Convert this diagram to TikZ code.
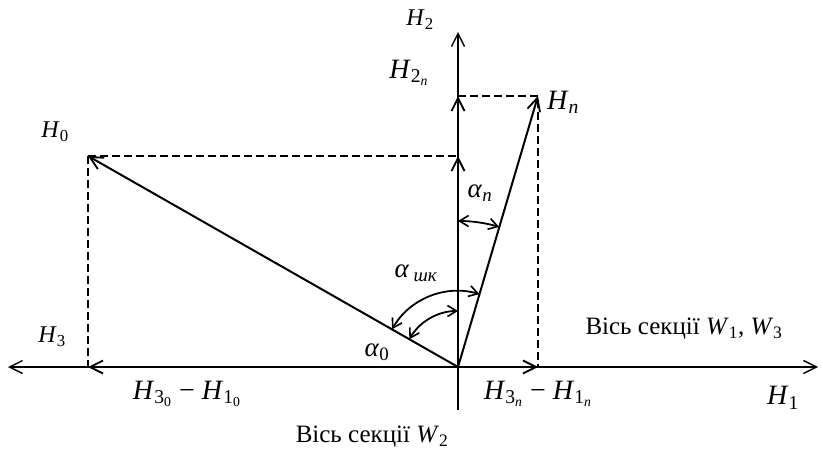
\documentclass[tikz,border=0pt]{standalone}
\usepackage{fontspec}
\setmainfont{Liberation Serif}
\usetikzlibrary{arrows.meta}
\newcommand{\ssub}[1]{\textsubscript{#1}}
\tikzset{
  vec/.style={line width=2pt,-{Straight Barb[length=13pt,width=13pt,line width=1.8pt]}},
  axis/.style={line width=1.4pt,-{Straight Barb[length=13pt,width=13pt,line width=1.4pt]}},
  proj/.style={line width=1.4pt,dash pattern=on 8pt off 4pt},
  ang/.style={line width=1.8pt,{Straight Barb[length=9pt,width=11pt,line width=1.6pt]}-{Straight Barb[length=9pt,width=11pt,line width=1.6pt]}},
  lab/.style={inner sep=0pt,font=\fontsize{24}{28}\selectfont},
  alab/.style={inner sep=0pt,font=\fontsize{27}{30}\selectfont},
  biglab/.style={inner sep=0pt,font=\fontsize{28}{32}\selectfont},
  txtlab/.style={inner sep=0pt,font=\fontsize{25}{30}\selectfont},
}
\begin{document}
\begin{tikzpicture}[x=1pt,y=1pt]
\useasboundingbox (0,0) rectangle (823,456);
% points
\coordinate (O) at (458,89);
\coordinate (H0) at (88,300);
\coordinate (Hn) at (538,360);
\coordinate (L) at (8,89);
\coordinate (R) at (818,89);
\coordinate (T) at (458,424);
\coordinate (B) at (458,46);
\coordinate (H0x) at (88,89);
\coordinate (Hnx) at (538,89);
\coordinate (H0y) at (458,300);
\coordinate (Hny) at (458,360);
% axes
\draw[axis] (O) -- (L);
\draw[axis] (O) -- (R);
\draw[axis] (O) -- (T);
\draw[line width=1.4pt] (O) -- (B);
% projections
\draw[proj] (H0) -- (H0y);
\draw[proj] (H0) -- (H0x);
\draw[proj] (Hny) -- (Hn) -- (Hnx);
% component vectors
\draw[vec] (O) -- (H0x);
\draw[vec] (O) -- (Hnx);
\draw[vec] (O) -- (H0y);
\draw[vec] (O) -- (Hny);
% main vectors
\draw[vec] (O) -- (H0);
\draw[vec] (O) -- (Hn);
% angle arcs
\draw[ang] ([shift={(90:146pt)}]O) arc[start angle=90, end angle=73.6, radius=146pt];
\draw[ang] ([shift={(150.3:76pt)}]O) arc[start angle=150.3, end angle=73.6, radius=76pt];
\draw[ang] ([shift={(150.3:56pt)}]O) arc[start angle=150.3, end angle=90, radius=56pt];
% labels
\node[lab] (lH2) at (420,436) {\textit{H}\ssub{2}};
\node[biglab] (lH2n) at (409,383) {\textit{H}\ssub{2\ssub{\textit{n}}}};
\node[biglab] (lHn) at (563,354) {\textit{H}\ssub{\textit{n}}};
\node[lab] (lH0) at (55,324) {\textit{H}\ssub{0}};
\node[lab] (lH3) at (52,119) {\textit{H}\ssub{3}};
\node[biglab] (lH30) at (187,62) {\textit{H}\ssub{3\ssub{0}} − \textit{H}\ssub{1\ssub{0}}};
\node[alab] (la0) at (377,104) {\textit{α}\ssub{0}};
\node[alab] (lash) at (416,183) {\textit{α}\,\ssub{\textit{шк}}};
\node[alab] (lan) at (480,263) {\textit{α}\ssub{\textit{n}}};
\node[txtlab] (lw13) at (684,127) {Вісь секції \textit{W}\ssub{1}, \textit{W}\ssub{3}};
\node[biglab] (lH3n) at (538,62) {\textit{H}\ssub{3\ssub{\textit{n}}} − \textit{H}\ssub{1\ssub{\textit{n}}}};
\node[biglab] (lH1) at (783,58) {\textit{H}\ssub{1}};
\node[txtlab] (lw2) at (372,19) {Вісь секції \textit{W}\ssub{2}};
\end{tikzpicture}
\end{document}
